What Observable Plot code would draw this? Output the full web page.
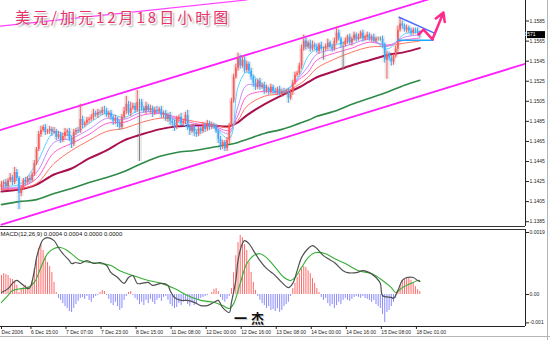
<!DOCTYPE html>
<html><head><meta charset="utf-8">
<script src="https://cdn.jsdelivr.net/npm/d3@7"></script>
<script src="https://cdn.jsdelivr.net/npm/@observablehq/plot@0.6"></script>
<style>
html,body{margin:0;padding:0;background:#fff;}
#wrap{position:relative;width:550px;height:340px;overflow:hidden;background:#fff;}
#top,#bot{position:absolute;left:0;}
#top{top:0}
#bot{top:228px}
#title{position:absolute;left:15px;top:9px;font-size:15px;line-height:15px;font-family:"Noto Sans CJK SC";letter-spacing:3px;color:#e8336b;text-shadow:1px 1px 0 #fff,2px 2px 2px #9a9a9a;white-space:nowrap;}
#mark{position:absolute;left:234px;top:310px;font-size:13px;line-height:15px;font-weight:bold;font-family:"Noto Sans CJK SC";letter-spacing:4px;color:#111;text-shadow:0 0 2px #fff,1px 1px 1px #bbb;}
#edgeR{position:absolute;left:547px;top:0;width:1px;height:340px;background:#b5b5b5;}
#edgeB{position:absolute;left:0;top:336px;width:550px;height:1px;background:#b5b5b5;}
</style></head><body>
<div id="wrap"><div id="top"></div><div id="bot"></div><div id="title"></div><div id="mark"></div><div id="edgeR"></div><div id="edgeB"></div></div>
<script>
const chartTitle = "美元/加元12月18日小时图";
const watermark = "一杰";
const macdLabel = "MACD(12,26,9) 0.0004 0.0004 0.0000 0.0000";

const priceTicks = [1.1385,1.1405,1.1425,1.1445,1.1465,1.1485,1.1505,1.1525,1.1545,1.1565,1.1585];
const macdTickVals = [0.0019, 0, -0.00087];
const macdTickLabels = ["0.0019", "0.00", "-0.001"];
const timeTickIdx = [-0.45,13,29,45,61,77,93,109,125,141,157,173,189];
const timeTickLabels = ["Dec 2006","6 Dec 15:00","7 Dec 07:00","7 Dec 23:00","8 Dec 15:00","11 Dec 08:00","12 Dec 00:00","12 Dec 16:00","13 Dec 08:00","14 Dec 00:00","14 Dec 16:00","15 Dec 08:00","18 Dec 01:00"];

const firstOpen = 1.1419;
const closes = [
1.1422,1.1424,1.1420,1.1426,1.1429,1.1424,1.1434,1.1428,1.1413,1.1418,1.1426,1.1424,1.1428,1.1426,1.1432,1.1443,
1.1457,1.1472,1.1476,1.1479,1.1474,1.1475,1.1477,1.1474,1.1475,1.1469,1.1472,1.1466,1.1470,1.1474,1.1475,1.1468,
1.1462,1.1474,1.1476,1.1475,1.1487,1.1481,1.1483,1.1486,1.1487,1.1489,1.1493,1.1491,1.1494,1.1493,1.1496,1.1495,
1.1491,1.1493,1.1489,1.1485,1.1487,1.1483,1.1479,1.1489,1.1495,1.1502,1.1493,1.1498,1.1500,1.1496,1.1504,1.1504,
1.1498,1.1495,1.1500,1.1496,1.1498,1.1493,1.1496,1.1495,1.1497,1.1491,1.1493,1.1487,1.1491,1.1485,1.1483,1.1479,
1.1487,1.1489,1.1483,1.1485,1.1491,1.1479,1.1475,1.1479,1.1474,1.1472,1.1477,1.1475,1.1481,1.1477,1.1483,1.1479,
1.1481,1.1480,1.1475,1.1467,1.1460,1.1464,1.1458,1.1466,1.1481,1.1505,1.1529,1.1538,1.1548,1.1540,1.1546,1.1536,
1.1542,1.1535,1.1529,1.1523,1.1519,1.1525,1.1519,1.1521,1.1515,1.1517,1.1514,1.1519,1.1515,1.1514,1.1517,1.1512,
1.1515,1.1514,1.1515,1.1508,1.1514,1.1523,1.1531,1.1533,1.1540,1.1557,1.1565,1.1559,1.1563,1.1557,1.1561,1.1559,
1.1555,1.1561,1.1557,1.1557,1.1559,1.1563,1.1559,1.1557,1.1565,1.1573,1.1567,1.1561,1.1561,1.1565,1.1569,1.1563,
1.1567,1.1571,1.1567,1.1569,1.1573,1.1567,1.1569,1.1571,1.1567,1.1569,1.1565,1.1567,1.1567,1.1567,1.1561,1.1546,
1.1552,1.1548,1.1544,1.1550,1.1557,1.1576,1.1582,1.1580,1.1576,1.1578,1.1575,1.1573,1.1576,1.1575,1.1573,1.1571];
const upperWickPips = [
3,2,3,2,4,2,5,3,2,3,2,3,2,3,2,3,
2,3,4,2,3,2,3,2,4,2,3,2,3,4,2,3,
2,3,2,3,15,3,2,3,2,3,4,2,3,2,3,4,
3,2,3,2,4,2,3,3,4,8,3,6,3,3,12,3,
3,2,4,2,3,2,3,4,2,3,2,3,2,3,2,3,
3,2,4,2,3,5,2,3,2,2,3,2,3,2,3,2,
3,2,2,2,3,2,2,3,2,3,3,4,5,3,4,3,
3,2,3,2,4,2,3,2,3,4,2,3,2,3,2,3,
2,3,2,3,2,3,3,2,3,4,6,3,2,3,4,2,
3,2,3,2,3,4,2,3,3,6,3,2,3,3,2,3,
2,3,2,3,2,3,2,3,2,2,3,2,2,2,3,2,
3,2,3,2,3,4,6,3,2,3,2,3,2,2,3,2];
const lowerWickPips = [
3,4,2,3,2,3,2,3,16,3,2,3,2,3,2,2,
2,2,3,2,3,2,3,4,2,3,2,3,2,3,4,3,
4,2,3,2,2,3,2,2,3,2,3,2,3,2,2,3,
2,3,3,4,3,4,3,2,2,3,2,3,2,3,2,59,
3,2,3,2,3,4,2,3,2,3,3,2,3,4,3,4,
2,3,3,2,3,3,4,2,4,3,2,3,2,3,2,3,
2,3,2,4,4,3,3,3,4,2,2,2,3,3,2,3,
2,3,3,4,3,2,3,2,3,2,3,2,3,2,3,2,
3,2,3,5,2,3,2,2,2,3,2,3,2,3,2,3,
2,3,2,11,2,3,2,3,2,3,2,3,25,2,3,2,
3,2,3,2,2,3,2,3,2,3,2,2,2,2,3,3,
19,3,4,3,2,3,2,3,2,3,2,3,2,3,2,3];

const maIdx = [0,8,16,24,32,40,48,56,64,72,80,88,96,104,108,112,120,128,136,140,144,152,160,168,176,184,191];
const maCyan = [1.1421,1.1422,1.1443,1.1474,1.1471,1.1483,1.1493,1.1489,1.1497,1.1495,1.1485,1.1477,1.1480,1.1468,1.1519,1.1534,1.1521,1.1514,1.1531,1.1550,1.1557,1.1561,1.1566,1.1569,1.1557,1.1572,1.1574];
const maLavender = [1.1419,1.1420,1.1434,1.1464,1.1468,1.1477,1.1488,1.1487,1.1494,1.1494,1.1487,1.1480,1.1480,1.1473,1.1500,1.1521,1.1519,1.1514,1.1529,1.1540,1.1552,1.1557,1.1562,1.1567,1.1560,1.1569,1.1571];
const maPink = [1.1418,1.1419,1.1428,1.1454,1.1463,1.1472,1.1483,1.1484,1.1491,1.1493,1.1489,1.1483,1.1481,1.1476,1.1491,1.1510,1.1515,1.1514,1.1527,1.1534,1.1546,1.1553,1.1558,1.1564,1.1561,1.1566,1.1568];
const maSalmon = [1.1417,1.1418,1.1423,1.1443,1.1456,1.1466,1.1475,1.1478,1.1484,1.1488,1.1488,1.1485,1.1482,1.1479,1.1486,1.1500,1.1510,1.1513,1.1522,1.1529,1.1538,1.1547,1.1554,1.1559,1.1560,1.1563,1.1565];
const maMaroon = [1.1415,1.1417,1.1422,1.1432,1.1438,1.1448,1.1456,1.1466,1.1472,1.1477,1.1480,1.1481,1.1481,1.1480,1.1484,1.1491,1.1502,1.1511,1.1519,1.1524,1.1529,1.1535,1.1541,1.1546,1.1551,1.1554,1.1558];
const maGreen = [1.1402,1.1405,1.1407,1.1413,1.1418,1.1424,1.1429,1.1435,1.1443,1.1450,1.1454,1.1456,1.1459,1.1462,1.1464,1.1467,1.1473,1.1477,1.1483,1.1486,1.1490,1.1495,1.1502,1.1508,1.1514,1.1521,1.1526];

const channelUpperIdx = [-1, 200], channelUpperPrice = [1.1476, 1.1610];
const channelLowerIdx = [0, 240], channelLowerPrice = [1.1382, 1.1543];
const topLineIdx = [-0.5, 112], topLinePrice = [1.1580, 1.1606];
const triUpperIdx = [181.3, 198.2], triUpperPrice = [1.1589, 1.15725];
const triLowerIdx = [180.8, 197.3], triLowerPrice = [1.15659, 1.15659];
const zigIdx = [190.4, 192.7, 196.8, 201.8];
const zigPrice = [1.15716, 1.15764, 1.15668, 1.15935];

const macdHist = [
0.00058,0.00064,0.00061,0.00058,0.00049,0.00046,0.00040,0.00028,0.00006,0.00015,0.00021,0.00028,0.00024,0.00018,0.00040,0.00080,
0.00116,0.00141,0.00153,0.00135,0.00116,0.00098,0.00086,0.00067,0.00037,0.00006,-0.00012,-0.00018,-0.00028,-0.00037,-0.00043,-0.00052,
-0.00055,-0.00043,-0.00031,-0.00021,-0.00012,-0.00009,-0.00015,-0.00006,-0.00018,-0.00024,-0.00012,-0.00006,-0.00003,0.00006,0.00012,0.00009,
-0.00003,-0.00015,-0.00028,-0.00034,-0.00024,-0.00037,-0.00049,-0.00043,-0.00018,-0.00006,0.00006,0.00009,-0.00003,-0.00012,-0.00018,-0.00031,
-0.00024,-0.00034,-0.00018,-0.00028,-0.00015,-0.00024,-0.00031,-0.00018,-0.00012,-0.00021,-0.00009,-0.00006,-0.00018,-0.00031,-0.00037,-0.00043,
-0.00040,-0.00028,-0.00034,-0.00024,-0.00018,-0.00031,-0.00037,-0.00024,-0.00034,-0.00028,-0.00018,-0.00012,-0.00009,-0.00006,-0.00003,0,
0.00006,0.00015,0.00018,0.00009,-0.00009,-0.00018,-0.00024,-0.00015,-0.00006,0.00018,0.00067,0.00119,0.00159,0.00181,0.00174,0.00153,
0.00135,0.00098,0.00067,0.00037,0.00012,-0.00006,-0.00018,-0.00028,-0.00034,-0.00043,-0.00037,-0.00049,-0.00046,-0.00052,-0.00043,-0.00055,
-0.00049,-0.00037,-0.00031,-0.00024,-0.00006,0.00018,0.00034,0.00052,0.00064,0.00077,0.00086,0.00083,0.00073,0.00064,0.00049,0.00034,
0.00018,0.00006,-0.00009,-0.00018,-0.00012,-0.00028,-0.00037,-0.00031,-0.00043,-0.00034,-0.00024,-0.00031,-0.00018,-0.00012,-0.00018,-0.00021,
-0.00015,-0.00009,-0.00006,-0.00009,-0.00012,-0.00006,-0.00012,-0.00015,-0.00018,-0.00024,-0.00018,-0.00031,-0.00037,-0.00043,-0.00061,-0.00086,
-0.00055,-0.00049,-0.00037,-0.00024,-0.00012,0.00012,0.00028,0.00043,0.00046,0.00049,0.00049,0.00043,0.00034,0.00024,0.00015,0.00009];
const macdIdx = [0,3,5,7,9,12,13,15,16,18,19,21,24,26,28,31,32,34,36,39,42,45,48,50,53,56,58,60,62,64,67,69,73,76,77,79,82,85,88,91,94,97,99,101,104,105,107,108,110,111,113,115,118,121,124,125,128,131,133,135,137,140,142,144,147,149,152,156,158,162,165,168,171,173,174,178,179,181,183,185,188,190,191];
const macdVals = [0.00006,0.00018,0.00034,0.00043,0.00034,0.00018,0.00021,0.00073,0.00113,0.00156,0.00168,0.00174,0.00165,0.00144,0.00125,0.00104,0.00095,0.00098,0.00095,0.00104,0.00095,0.00098,0.00089,0.00067,0.00052,0.00034,0.00052,0.00058,0.00034,0.00034,0.00037,0.00028,0.00034,0.00028,0.00012,-0.00009,-0.00018,-0.00018,-0.00024,-0.00034,-0.00034,-0.00024,-0.00018,-0.00040,-0.00055,-0.00024,0.00043,0.00104,0.00156,0.00165,0.00156,0.00135,0.00104,0.00080,0.00064,0.00058,0.00037,0.00021,0.00034,0.00073,0.00113,0.00141,0.00150,0.00141,0.00119,0.00110,0.00098,0.00073,0.00067,0.00067,0.00073,0.00067,0.00052,0.00034,-0.00003,-0.00009,-0.00012,0.00012,0.00043,0.00052,0.00052,0.00043,0.00040];
const signalIdx = [0,3,5,9,12,15,18,21,24,27,30,33,36,41,45,50,54,60,67,73,79,85,91,97,101,104,106,109,112,115,118,121,125,129,132,134,137,140,143,148,152,157,163,169,174,178,180,183,188,190,191];
const signalVals = [-0.00024,-0.00003,0.00012,0.00018,0.00021,0.00037,0.00083,0.00125,0.00141,0.00144,0.00135,0.00119,0.00104,0.00098,0.00095,0.00089,0.00073,0.00058,0.00043,0.00034,0.00018,-0.00003,-0.00018,-0.00024,-0.00034,-0.00043,-0.00028,0.00034,0.00095,0.00119,0.00125,0.00113,0.00083,0.00052,0.00043,0.00052,0.00083,0.00113,0.00128,0.00125,0.00110,0.00095,0.00073,0.00064,0.00043,0.00021,0.00006,0.00021,0.00037,0.00043,0.00043];

document.getElementById("title").textContent = chartTitle;
document.getElementById("mark").textContent = watermark;

const pip = 0.0001;
const candles = closes.map((c, i) => {
  const o = i === 0 ? firstOpen : closes[i - 1];
  return {i, o, c, h: Math.max(o, c) + upperWickPips[i] * pip, l: Math.min(o, c) - lowerWickPips[i] * pip};
});
const candleColor = d => d.c > d.o ? "#ff5a5a" : d.c < d.o ? "#3aa9ff" : "#808080";
const maRows = maIdx.map((i, k) => ({i, cyan: maCyan[k], lav: maLavender[k], pink: maPink[k], salmon: maSalmon[k], maroon: maMaroon[k], green: maGreen[k]}));
const pts = (xs, ys) => xs.map((x, k) => ({x, y: ys[k]}));
const seg = (xs, ys) => [{x1: xs[0], y1: ys[0], x2: xs[1], y2: ys[1]}];

const FONT = "'Liberation Sans','Arial',sans-serif";
const xDomain = [-0.457, 239.27];
const yDomain = [1.13802, 1.160548];

const topPlot = Plot.plot({
  width: 550, height: 228, marginLeft: 0, marginRight: 25, marginTop: 0, marginBottom: 2,
  x: {domain: xDomain, axis: null},
  y: {domain: yDomain},
  color: {type: "identity"},
  style: {fontFamily: FONT, fontSize: "5px", background: "transparent", color: "#222", overflow: "visible"},
  marks: [
    Plot.ruleX(candles, {x: "i", y1: "l", y2: "h", stroke: "#ebebeb", strokeWidth: 5}),
    Plot.line(pts(topLineIdx, topLinePrice), {x: "x", y: "y", stroke: "#ff40ff", strokeWidth: 1.3, clip: true}),
    Plot.line(pts(channelUpperIdx, channelUpperPrice), {x: "x", y: "y", stroke: "#ff1eff", strokeWidth: 1.8, clip: true}),
    Plot.line(pts(channelLowerIdx, channelLowerPrice), {x: "x", y: "y", stroke: "#ff1eff", strokeWidth: 1.8, clip: true}),
    Plot.line(maRows, {x: "i", y: "green", stroke: "#2f8a48", strokeWidth: 1.6, curve: "catmull-rom"}),
    Plot.line(maRows, {x: "i", y: "maroon", stroke: "#a8104e", strokeWidth: 2, curve: "catmull-rom"}),
    Plot.line(maRows, {x: "i", y: "salmon", stroke: "#ff7462", strokeWidth: 1, curve: "catmull-rom"}),
    Plot.line(maRows, {x: "i", y: "pink", stroke: "#ff5fd0", strokeWidth: 1, curve: "catmull-rom"}),
    Plot.line(maRows, {x: "i", y: "lav", stroke: "#c48cff", strokeWidth: 1, curve: "catmull-rom"}),
    Plot.line(maRows, {x: "i", y: "cyan", stroke: "#5ad2ff", strokeWidth: 1, curve: "catmull-rom"}),
    Plot.ruleX(candles, {x: "i", y1: "l", y2: "h", stroke: candleColor, strokeWidth: 1}),
    Plot.ruleX(candles, {x: "i", y1: "o", y2: "c", stroke: candleColor, strokeWidth: 1.8}),
    Plot.link(seg(triUpperIdx, triUpperPrice), {x1: "x1", y1: "y1", x2: "x2", y2: "y2", stroke: "#4c6dff", strokeWidth: 1.5}),
    Plot.link(seg(triLowerIdx, triLowerPrice), {x1: "x1", y1: "y1", x2: "x2", y2: "y2", stroke: "#1ea8ff", strokeWidth: 1.5}),
    Plot.line(pts(zigIdx.slice(0, 3), zigPrice.slice(0, 3)), {x: "x", y: "y", stroke: "#ff2a8a", strokeWidth: 2.5}),
    Plot.arrow(seg(zigIdx.slice(2), zigPrice.slice(2)), {x1: "x1", y1: "y1", x2: "x2", y2: "y2", stroke: "#ff2a8a", strokeWidth: 2.5, headLength: 7}),
    Plot.ruleX([xDomain[1]], {stroke: "#222"}),
    Plot.ruleY([yDomain[0]], {stroke: "#333"}),
    Plot.axisY({anchor: "right", ticks: priceTicks, tickFormat: d => d.toFixed(4), tickSize: 3, tickPadding: 1, label: null, fill: "#222", fontSize: 5})
  ]
});
document.getElementById("top").appendChild(topPlot);

// current-price tag on the right axis
{
  const y = topPlot.scale("y").apply(closes[closes.length - 1]);
  const x0 = topPlot.scale("x").apply(xDomain[1]);
  const g = d3.select(topPlot).append("g");
  g.append("rect").attr("x", x0 + 2).attr("y", y - 3.5).attr("width", 18).attr("height", 7).attr("fill", "#000");
  g.append("text").attr("x", x0 + 3).attr("y", y).attr("dy", "0.35em").attr("fill", "#fff")
    .style("font-family", FONT).style("font-size", "5px").text(closes[closes.length - 1].toFixed(4));
}

const histRows = macdHist.map((v, i) => ({i, v}));
const mDomain = [-0.000981, 0.001992];
const botPlot = Plot.plot({
  width: 550, height: 112, marginLeft: 0, marginRight: 25, marginTop: 1, marginBottom: 14,
  x: {domain: xDomain},
  y: {domain: mDomain},
  color: {type: "identity"},
  style: {fontFamily: FONT, fontSize: "5px", background: "transparent", color: "#222", overflow: "visible"},
  marks: [
    Plot.ruleX(histRows, {x: "i", y1: 0, y2: "v", stroke: d => d.v >= 0 ? "#ff6a6a" : "#8a8aff", strokeWidth: 1}),
    Plot.line(pts(signalIdx, signalVals), {x: "x", y: "y", stroke: "#35b035", strokeWidth: 1.1, curve: "catmull-rom"}),
    Plot.line(pts(macdIdx, macdVals), {x: "x", y: "y", stroke: "#505050", strokeWidth: 1.2, curve: "catmull-rom"}),
    Plot.text([macdLabel], {frameAnchor: "top-left", dx: 0, dy: 2, textAnchor: "start", lineAnchor: "top", fill: "#111", fontSize: 6}),
    Plot.ruleX([xDomain[1]], {stroke: "#222"}),
    Plot.ruleY([mDomain[0]], {stroke: "#222"}),
    Plot.ruleY([mDomain[1]], {stroke: "#333"}),
    Plot.axisY({anchor: "right", ticks: macdTickVals, tickFormat: d => macdTickLabels[macdTickVals.indexOf(d)], tickSize: 3, tickPadding: 1, label: null, fill: "#222", fontSize: 5}),
    Plot.axisX({anchor: "bottom", ticks: timeTickIdx, tickFormat: d => timeTickLabels[timeTickIdx.indexOf(d)], tickSize: 3, tickPadding: 1, textAnchor: "start", dx: 1, label: null, fontSize: 5, fill: "#222"})
  ]
});
document.getElementById("bot").appendChild(botPlot);
</script>
</body></html>
